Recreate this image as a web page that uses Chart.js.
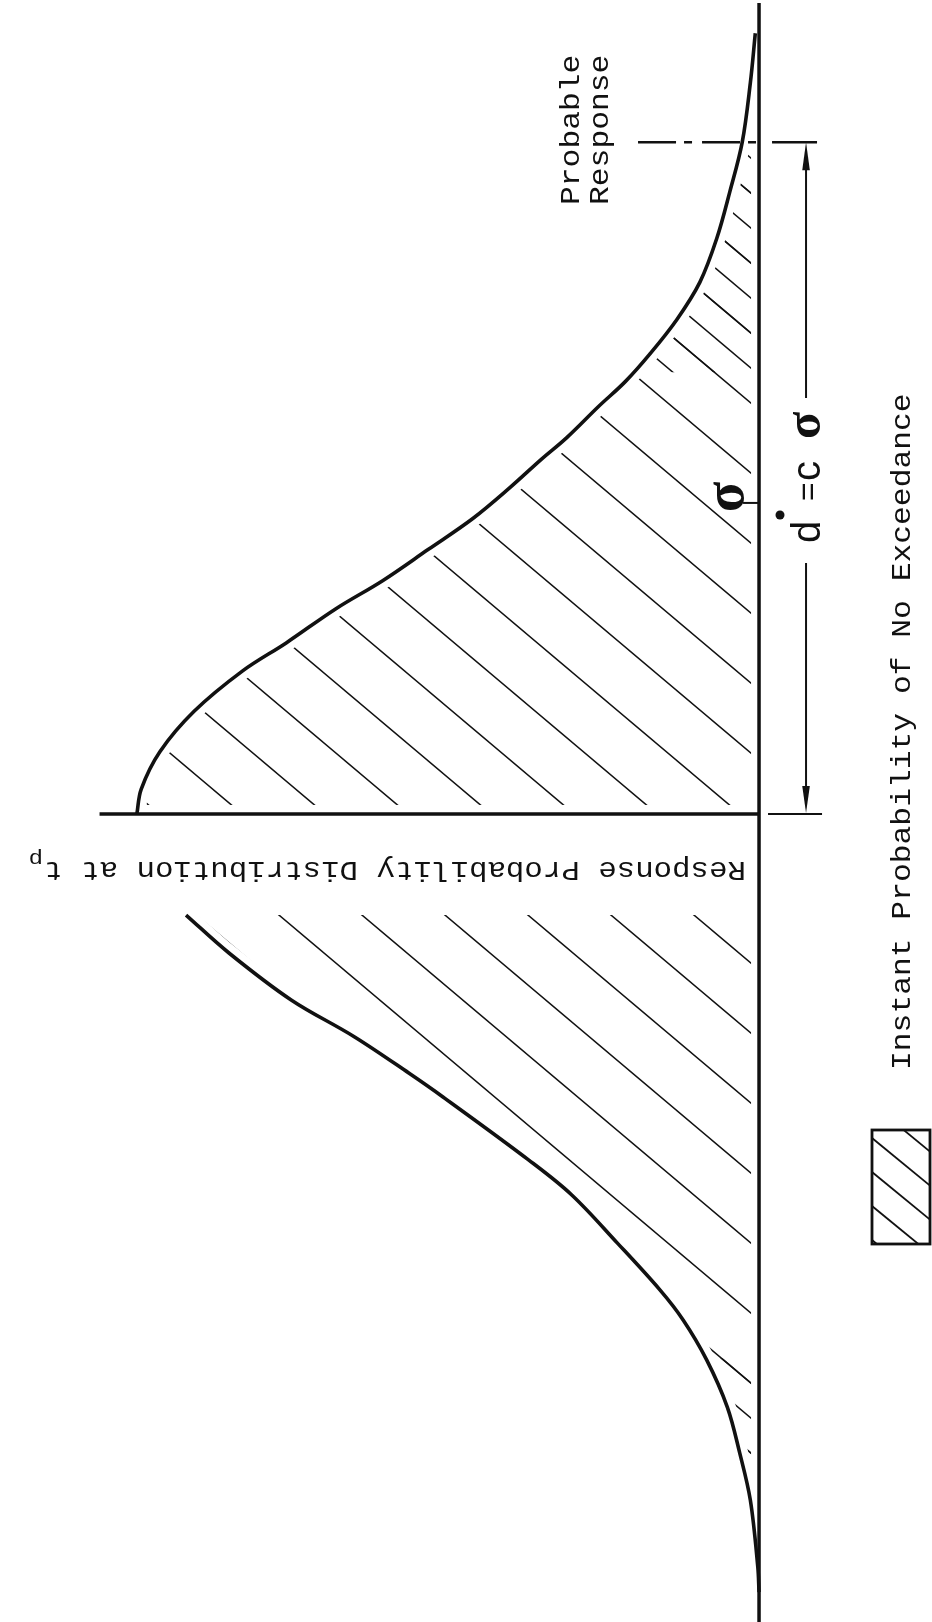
<!DOCTYPE html>
<html><head><meta charset="utf-8">
<script src="https://cdn.jsdelivr.net/npm/chart.js@4.4.0/dist/chart.umd.min.js"></script>
<style>html,body{margin:0;padding:0;background:#fff;}canvas{display:block;}</style>
</head><body>
<canvas id="c" width="932" height="1622"></canvas>
<script>
// Response (in units of sigma, measured from the mean) and relative probability density
const upperResponse = [2.51, 2.35, 2.16, 2.00, 1.85, 1.71, 1.59, 1.48, 1.39, 1.31, 1.21, 1.14, 1.05, 0.95, 0.85, 0.75, 0.66, 0.55, 0.46, 0.33, 0.20, 0.08, 0];
const upperDensity  = [0.006, 0.014, 0.027, 0.047, 0.068, 0.095, 0.132, 0.175, 0.215, 0.258, 0.309, 0.350, 0.400, 0.460, 0.532, 0.605, 0.680, 0.760, 0.830, 0.908, 0.963, 0.993, 1.0];
const lowerResponse = [-0.325, -0.447, -0.598, -0.717, -0.833, -0.910, -1.113, -1.225, -1.379, -1.531, -1.627, -1.756, -1.907, -2.055, -2.206, -2.421, -2.502];
const lowerDensity  = [0.921, 0.852, 0.752, 0.650, 0.563, 0.508, 0.370, 0.301, 0.228, 0.159, 0.122, 0.084, 0.051, 0.031, 0.014, 0.002, 0.0];
const sigmaLevel = 1;
const probableResponse = 2.16;   // d* = c·sigma
const responseRange = [-2.598, 2.617];
const densityRange = [-0.278, 1.220];
const denseTailLevels = [1.42, -1.75];
const textProbable = ['Probable', 'Response'];
const textAxis = 'Response Probability Distribution at t';
const textAxisSub = 'p';
const textLegend = 'Instant Probability of No Exceedance';

const INK = '#111';
const MONO = 'Liberation Mono';

function hatchPattern(ctx, w, slope, lw, dx, perTile) {
  const h = Math.round(w * slope);
  const c = document.createElement('canvas');
  c.width = w; c.height = h;
  const g = c.getContext('2d');
  g.strokeStyle = INK; g.lineWidth = lw;
  for (let k = -1; k <= 1; k++) {
    for (let j = 0; j < perTile; j++) {
      const o = k * w + j * w / perTile;
      g.beginPath(); g.moveTo(o - w, -h); g.lineTo(o + 2 * w, 2 * h); g.stroke();
    }
  }
  const p = ctx.createPattern(c, 'repeat');
  p.setTransform(new DOMMatrix([1, 0, 0, 1, dx, 0]));
  return p;
}

const canvas = document.getElementById('c');
const ctx0 = canvas.getContext('2d');
const hatch = hatchPattern(ctx0, 83, 0.84, 1.5, 24, 1);
const hatchDense = hatchPattern(ctx0, 83, 0.84, 1.5, 24, 2);

const pts = (ys, xs) => ys.map((y, i) => ({x: xs[i], y}));

function rotText(ctx, str, x, y, angle, font, align, stretch) {
  ctx.save();
  ctx.translate(x, y); ctx.rotate(angle); ctx.scale(stretch || 1, 1);
  ctx.font = font; ctx.textAlign = align || 'left'; ctx.textBaseline = 'alphabetic';
  ctx.fillText(str, 0, 0);
  ctx.restore();
}

function regionPath(ctx, meta, bx) {
  const p = meta.data;
  ctx.beginPath();
  meta.dataset.path(ctx);
  ctx.lineTo(bx, p[p.length - 1].y);
  ctx.lineTo(bx, p[0].y);
  ctx.closePath();
}

const guides = {
  id: 'guides',
  beforeDatasetsDraw(chart) {
    const ctx = chart.ctx, xs = chart.scales.x, ys = chart.scales.y;
    const bx = xs.getPixelForValue(0), my = ys.getPixelForValue(0);
    // denser hatching in the tails
    ctx.save();
    ctx.fillStyle = hatchDense;
    [0, 1].forEach(i => {
      const meta = chart.getDatasetMeta(i);
      const lim = ys.getPixelForValue(denseTailLevels[i]);
      ctx.save();
      ctx.beginPath();
      if (i === 0) ctx.rect(0, 0, chart.width, lim); else ctx.rect(0, lim, chart.width, chart.height - lim);
      ctx.clip();
      regionPath(ctx, meta, bx);
      ctx.fill();
      ctx.restore();
    });
    ctx.restore();
    // keep hatch lines clear of the outlines
    ctx.save();
    ctx.strokeStyle = '#fff'; ctx.lineWidth = 17; ctx.lineJoin = 'round'; ctx.lineCap = 'round';
    chart.data.datasets.forEach((ds, i) => {
      const meta = chart.getDatasetMeta(i);
      ctx.beginPath(); meta.dataset.path(ctx); ctx.stroke();
    });
    ctx.fillStyle = '#fff';
    ctx.fillRect(bx - 8, 0, 8, chart.height);
    ctx.fillRect(0, my - 9, bx, 9);
    ctx.restore();
  },
  afterDatasetsDraw(chart) {
    const ctx = chart.ctx, xs = chart.scales.x, ys = chart.scales.y;
    const bx = xs.getPixelForValue(0);
    const my = ys.getPixelForValue(0);
    const sy = ys.getPixelForValue(sigmaLevel);
    const py = ys.getPixelForValue(probableResponse);
    ctx.save();
    ctx.strokeStyle = INK; ctx.fillStyle = INK; ctx.lineCap = 'butt';
    // baseline (zero density)
    ctx.lineWidth = 3.5;
    ctx.beginPath(); ctx.moveTo(bx, 3); ctx.lineTo(bx, chart.height); ctx.stroke();
    // mean line
    ctx.beginPath(); ctx.moveTo(xs.getPixelForValue(1.06), my); ctx.lineTo(bx, my); ctx.stroke();
    ctx.lineWidth = 2;
    ctx.beginPath(); ctx.moveTo(bx + 9, my); ctx.lineTo(bx + 63, my); ctx.stroke();
    // sigma tick
    ctx.beginPath(); ctx.moveTo(bx - 16, sy); ctx.lineTo(bx, sy); ctx.stroke();
    // probable response dash-dot line
    ctx.lineWidth = 2.5;
    ctx.setLineDash([38, 8, 8, 10]);
    ctx.beginPath(); ctx.moveTo(bx - 121, py); ctx.lineTo(bx + 3, py); ctx.stroke();
    ctx.setLineDash([]);
    ctx.beginPath(); ctx.moveTo(bx + 13, py); ctx.lineTo(bx + 58, py); ctx.stroke();
    // dimension line with arrows
    const dx = bx + 47;
    ctx.lineWidth = 2;
    ctx.beginPath(); ctx.moveTo(dx, py + 20); ctx.lineTo(dx, 398); ctx.stroke();
    ctx.beginPath(); ctx.moveTo(dx, 563); ctx.lineTo(dx, my - 20); ctx.stroke();
    ctx.beginPath(); ctx.moveTo(dx, py); ctx.lineTo(dx - 3.8, py + 28); ctx.lineTo(dx + 3.8, py + 28); ctx.closePath(); ctx.fill();
    ctx.beginPath(); ctx.moveTo(dx, my - 1); ctx.lineTo(dx - 3.8, my - 28); ctx.lineTo(dx + 3.8, my - 28); ctx.closePath(); ctx.fill();

    // texts
    const up = -Math.PI / 2;
    const monoFont = '27px "' + MONO + '"';
    const st = 1.16;
    rotText(ctx, textProbable[0], 579, 205, up, monoFont, 'left', st);
    rotText(ctx, textProbable[1], 608, 205, up, monoFont, 'left', st);
    rotText(ctx, textLegend, 910, 1070, up, monoFont, 'left', st);
    // axis caption upside down
    ctx.save();
    ctx.translate(746, 862); ctx.rotate(Math.PI); ctx.scale(1.14, 1);
    ctx.font = monoFont; ctx.textAlign = 'left';
    ctx.fillText(textAxis, 0, 0);
    const w = ctx.measureText(textAxis).width;
    ctx.font = '21px "' + MONO + '"';
    ctx.fillText(textAxisSub, w + 1, 9);
    ctx.restore();
    // sigma marker
    rotText(ctx, 'σ', 743, sy - 6, up, 'bold 56px "Liberation Serif"', 'center', 1);
    // d* = c sigma
    ctx.save();
    ctx.translate(820, 543); ctx.rotate(up);
    ctx.font = '40px "Liberation Sans"'; ctx.textAlign = 'left';
    ctx.fillText('d', 0, 0);
    ctx.beginPath(); ctx.arc(28, -40, 4.5, 0, Math.PI * 2); ctx.fill();
    ctx.font = '32px "Liberation Sans"';
    ctx.fillText('=', 42, -2);
    ctx.font = '40px "Liberation Sans"';
    ctx.fillText('c', 62, 0);
    ctx.font = 'bold 50px "Liberation Serif"';
    ctx.fillText('σ', 104, 0);
    ctx.restore();

    // legend swatch
    const lx = 872, ly = 1130, lw = 58, lh = 114;
    ctx.save();
    ctx.beginPath(); ctx.rect(lx, ly, lw, lh); ctx.clip();
    ctx.lineWidth = 1.8;
    for (let k = -3; k <= 4; k++) {
      const y0 = ly + 8 + 34 * k;
      ctx.beginPath(); ctx.moveTo(lx, y0); ctx.lineTo(lx + lw, y0 + 0.82 * lw); ctx.stroke();
    }
    ctx.restore();
    ctx.lineWidth = 2.8;
    ctx.strokeRect(lx, ly, lw, lh);
    ctx.restore();
  }
};

const bg = {
  id: 'bg',
  beforeDraw(chart) { const c = chart.ctx; c.save(); c.fillStyle = '#fff'; c.fillRect(0, 0, chart.width, chart.height); c.restore(); }
};

new Chart(canvas, {
  type: 'line',
  data: {
    datasets: [
      {label: 'upper', data: pts(upperResponse, upperDensity)},
      {label: 'lower', data: pts(lowerResponse, lowerDensity)}
    ].map(d => Object.assign(d, {
      borderColor: INK, borderWidth: 3.6, pointRadius: 0, tension: 0.35,
      fill: 'origin', backgroundColor: hatch
    }))
  },
  options: {
    indexAxis: 'y',
    responsive: false, animation: false, devicePixelRatio: 1,
    layout: {padding: 0},
    scales: {
      x: {type: 'linear', display: false, reverse: true, min: densityRange[0], max: densityRange[1]},
      y: {type: 'linear', display: false, min: responseRange[0], max: responseRange[1]}
    },
    plugins: {legend: {display: false}, tooltip: {enabled: false}, filler: {drawTime: 'beforeDatasetsDraw'}}
  },
  plugins: [bg, guides]
});
</script>
</body></html>
